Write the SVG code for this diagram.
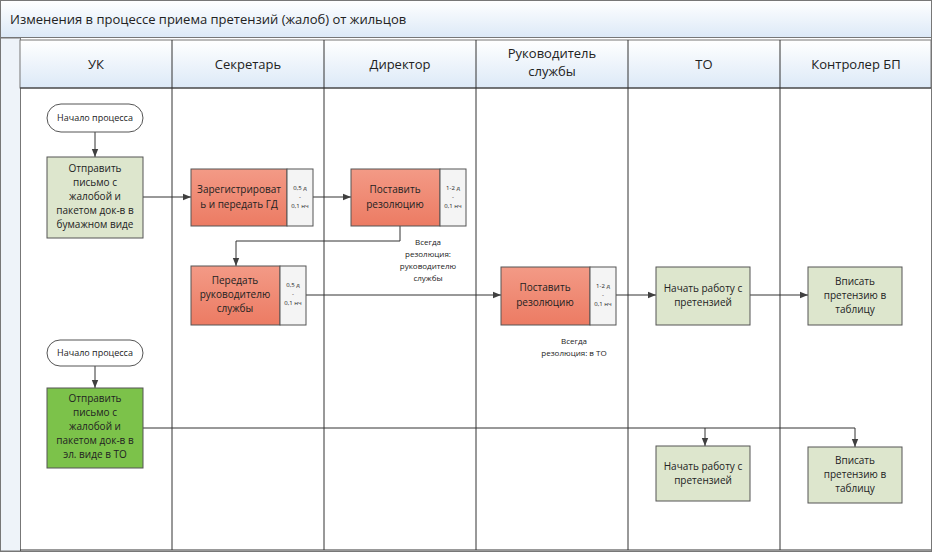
<svg xmlns="http://www.w3.org/2000/svg" width="932" height="552" viewBox="0 0 932 552">
<defs>
<linearGradient id="hg" x1="0" y1="0" x2="0" y2="1"><stop offset="0" stop-color="#ffffff"/><stop offset="1" stop-color="#dce9f7"/></linearGradient>
<linearGradient id="rg" x1="0" y1="0" x2="0" y2="1"><stop offset="0" stop-color="#f39a86"/><stop offset="1" stop-color="#ec7b63"/></linearGradient>
<marker id="ar" viewBox="0 0 10 10" refX="10" refY="5" markerWidth="8" markerHeight="8" orient="auto"><path d="M0,1 L10,5 L0,9 z" fill="#404040"/></marker>
</defs>
<style>
text{font-family:"Open Sans","Liberation Sans",sans-serif;fill:#222;text-anchor:middle}
.h{font-size:13px}
.t{font-size:10px}
.s{font-size:6px}
.ln{stroke:#333;stroke-width:1;fill:none}
.c{stroke:#333;stroke-width:1;fill:none;marker-end:url(#ar)}
.red{fill:url(#rg);stroke:#555}
.side{fill:#f4f4f4;stroke:#555}
.lg{fill:#dde6cd;stroke:#555}
.dg{fill:#7cc24a;stroke:#555}
.pill{fill:#fff;stroke:#555}
</style>
<rect x="0.5" y="0.5" width="931" height="551" fill="#fff" stroke="#777"/>
<rect x="0.5" y="0.5" width="931" height="37" fill="url(#hg)" stroke="#777"/>
<text x="10" y="24" class="h" style="text-anchor:start">Изменения в процессе приема претензий (жалоб) от жильцов</text>
<rect x="0.5" y="38" width="20" height="513" fill="#eef3f9" stroke="#777"/>
<g id="lanes">
<rect x="20" y="40" width="911" height="48" fill="url(#hg)" stroke="#777"/>
<path class="ln" d="M172,40V550M324,40V550M476,40V550M628,40V550M780,40V550M20,88H931M20,550H931"/>
<text x="96" y="69" class="h">УК</text>
<text x="248" y="69" class="h">Секретарь</text>
<text x="400" y="69" class="h">Директор</text>
<text x="552" y="58" class="h">Руководитель</text>
<text x="552" y="76" class="h">службы</text>
<text x="704" y="69" class="h">ТО</text>
<text x="856" y="69" class="h">Контролер БП</text>
</g>
<g id="connectors">
<path class="c" d="M95,132V157"/>
<path class="c" d="M143,197H191"/>
<path class="c" d="M313,197H351"/>
<path class="c" d="M400,226V241H236V266"/>
<path class="c" d="M306,295H501"/>
<path class="c" d="M616,295H656"/>
<path class="c" d="M750,295H808"/>
<path class="c" d="M95,366V388"/>
<path class="c" d="M143,428H855V447"/>
<path class="c" d="M705,428V446"/>
<text x="428" y="245" class="s" style="font-size:8px">Всегда</text>
<text x="428" y="257" class="s" style="font-size:8px">резолюция:</text>
<text x="428" y="269" class="s" style="font-size:8px">руководителю</text>
<text x="428" y="281" class="s" style="font-size:8px">службы</text>
<text x="574" y="344" class="s" style="font-size:8px">Всегда</text>
<text x="574" y="356" class="s" style="font-size:8px">резолюция: в ТО</text>
</g>
<g id="start1"><rect class="pill" x="47" y="104" width="96" height="28" rx="14"/><text x="95" y="121" class="s" style="font-size:9px">Начало процесса</text></g>
<g id="send1"><rect class="lg" x="47" y="157" width="96" height="81"/>
<text class="t" x="95" y="172">Отправить</text><text class="t" x="95" y="186">письмо с</text><text class="t" x="95" y="200">жалобой и</text><text class="t" x="95" y="214">пакетом док-в в</text><text class="t" x="95" y="228">бумажном виде</text></g>
<g id="reg"><rect class="red" x="191" y="169" width="96" height="57"/><rect class="side" x="287" y="169" width="26" height="57"/>
<text class="t" x="239" y="193">Зарегистрироват</text><text class="t" x="239" y="208">ь и передать ГД</text>
<text class="s" x="300" y="190">0,5 д</text><text class="s" x="300" y="199">-</text><text class="s" x="300" y="208">0,1 нч</text></g>
<g id="res1"><rect class="red" x="351" y="169" width="89" height="57"/><rect class="side" x="440" y="169" width="26" height="57"/>
<text class="t" x="395" y="193">Поставить</text><text class="t" x="395" y="208">резолюцию</text>
<text class="s" x="453" y="190">1-2 д</text><text class="s" x="453" y="199">-</text><text class="s" x="453" y="208">0,1 нч</text></g>
<g id="pass"><rect class="red" x="191" y="266" width="89" height="59"/><rect class="side" x="280" y="266" width="26" height="59"/>
<text class="t" x="235" y="284">Передать</text><text class="t" x="235" y="298">руководителю</text><text class="t" x="235" y="312">службы</text>
<text class="s" x="293" y="287">0,5 д</text><text class="s" x="293" y="296">-</text><text class="s" x="293" y="305">0,1 нч</text></g>
<g id="res2"><rect class="red" x="501" y="267" width="89" height="58"/><rect class="side" x="590" y="267" width="26" height="58"/>
<text class="t" x="545" y="291">Поставить</text><text class="t" x="545" y="306">резолюцию</text>
<text class="s" x="603" y="288">1-2 д</text><text class="s" x="603" y="297">-</text><text class="s" x="603" y="306">0,1 нч</text></g>
<g id="work1"><rect class="lg" x="656" y="267" width="94" height="58"/><text class="t" x="703" y="292">Начать работу с</text><text class="t" x="703" y="306">претензией</text></g>
<g id="tab1"><rect class="lg" x="808" y="267" width="94" height="58"/><text class="t" x="855" y="285">Вписать</text><text class="t" x="855" y="299">претензию в</text><text class="t" x="855" y="313">таблицу</text></g>
<g id="start2"><rect class="pill" x="47" y="340" width="96" height="26" rx="13"/><text x="95" y="356" class="s" style="font-size:9px">Начало процесса</text></g>
<g id="send2"><rect class="dg" x="47" y="388" width="96" height="80"/>
<text class="t" x="95" y="402">Отправить</text><text class="t" x="95" y="416">письмо с</text><text class="t" x="95" y="430">жалобой и</text><text class="t" x="95" y="444">пакетом док-в в</text><text class="t" x="95" y="458">эл. виде в ТО</text></g>
<g id="work2"><rect class="lg" x="656" y="446" width="94" height="55"/><text class="t" x="703" y="470">Начать работу с</text><text class="t" x="703" y="484">претензией</text></g>
<g id="tab2"><rect class="lg" x="808" y="447" width="94" height="56"/><text class="t" x="855" y="464">Вписать</text><text class="t" x="855" y="478">претензию в</text><text class="t" x="855" y="492">таблицу</text></g>
</svg>
